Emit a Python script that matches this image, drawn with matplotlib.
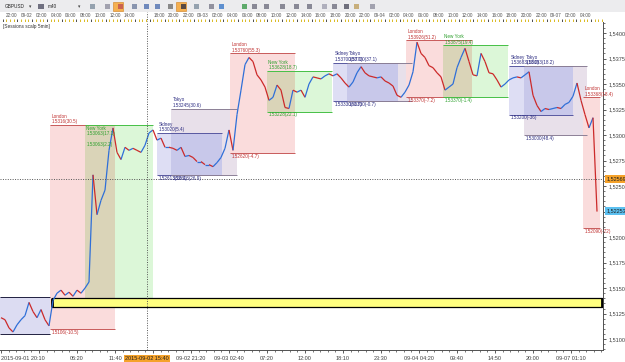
import numpy as np
import matplotlib
matplotlib.use("Agg")
import matplotlib.pyplot as plt
from matplotlib.collections import LineCollection
from matplotlib.patches import Rectangle
from matplotlib.ticker import MultipleLocator, FuncFormatter
import matplotlib.transforms as mtransforms

plt.rcParams["font.family"] = ["Liberation Sans", "DejaVu Sans"]

# GBPUSD closes, one value per bar
close = [
    1.5121, 1.5119, 1.5111, 1.5107, 1.5114, 1.5119, 1.5123, 1.5136, 1.5127, 1.5121,
    1.5129, 1.5119, 1.5113, 1.5138, 1.5145, 1.5148, 1.5143, 1.5146, 1.5142, 1.5148,
    1.5145, 1.5150, 1.5156, 1.5261, 1.5222, 1.5236, 1.5246, 1.5285, 1.5307, 1.5283,
    1.5276, 1.5288, 1.5285, 1.5287, 1.5285, 1.5283, 1.5290, 1.5302, 1.5305, 1.5295,
    1.5297, 1.5288, 1.5288, 1.5287, 1.5285, 1.5288, 1.5279, 1.5280, 1.5278, 1.5274,
    1.5274, 1.5271, 1.5271, 1.5269, 1.5273, 1.5278, 1.5287, 1.5305, 1.5285, 1.5320,
    1.5344, 1.5369, 1.5376, 1.5372, 1.5359, 1.5354, 1.5347, 1.5334, 1.5337, 1.5349,
    1.5344, 1.5327, 1.5326, 1.5344, 1.5342, 1.5344, 1.5337, 1.5350, 1.5357, 1.5356,
    1.5355, 1.5358, 1.5360, 1.5358, 1.5360, 1.5356, 1.5351, 1.5347, 1.5352, 1.5361,
    1.5367, 1.5361, 1.5358, 1.5357, 1.5356, 1.5357, 1.5353, 1.5351, 1.5348, 1.5339,
    1.5337, 1.5342, 1.5349, 1.5362, 1.5391, 1.5380, 1.5376, 1.5368, 1.5366, 1.5361,
    1.5357, 1.5344, 1.5347, 1.5350, 1.5366, 1.5376, 1.5385, 1.5372, 1.5359, 1.5358,
    1.5380, 1.5372, 1.5361, 1.5360, 1.5354, 1.5347, 1.5350, 1.5354, 1.5356, 1.5357,
    1.5356, 1.5359, 1.5362, 1.5339, 1.5329, 1.5323, 1.5326, 1.5325, 1.5326, 1.5327,
    1.5326, 1.5330, 1.5332, 1.5338, 1.5351, 1.5334, 1.5320, 1.5307, 1.5317, 1.5225,
]

# trading sessions (bar ranges and high/low)
sess_name = ["", "London", "New York", "Sidney", "Tokyo", "London", "New York",
             "Sidney", "Tokyo", "London", "New York", "Sidney", "Tokyo", "London"]
sess_start = [-0.25, 12.25, 21.0, 39.0, 42.5, 57.25, 66.5, 83.0, 86.5, 101.25, 110.5, 127.0, 130.75, 145.5]
sess_end = [12.25, 28.5, 38.0, 55.25, 59.0, 73.5, 82.75, 99.25, 102.75, 117.75, 126.75, 143.0, 146.5, 149.75]
sess_high = [1.5141, 1.5310, 1.5310, 1.5302, 1.5326, 1.5380, 1.5363, 1.5371, 1.5371, 1.5393, 1.5388, 1.5368, 1.5368, 1.5337]
sess_low = [1.5105, 1.5110, 1.5138, 1.5261, 1.5261, 1.5282, 1.5323, 1.5333, 1.5333, 1.5337, 1.5337, 1.5320, 1.5300, 1.5209]
sess_hi_text = ["", "1.5316(30.5)", "1.53063(17.1)", "1.53020(5.4)", "1.53245(30.6)", "1.53760(55.3)",
                "1.53628(18.7)", "1.53700(37.1)", "1.53700(37.1)", "1.53926(51.2)", "1.53875(19.4)",
                "1.53683(18.2)", "1.53683(18.2)", "1.53368(18.4)"]
sess_lo_text = ["", "1.5106(-10.5)", "", "1.52613(26.9)", "1.52613(26.9)", "1.52620(-4.7)",
                "1.53228(22.1)", "1.53330(-0.7)", "1.53330(-0.7)", "1.53370(-7.2)", "1.53370(-1.4)",
                "1.53200(-36)", "1.53000(48.4)", "1.52090(-72)"]
note_bar, note_price, note_text = 21.0, 1.5291, "1.53063(2.2)"

band_start, band_end = 12.75, 150.25
band_low, band_high = 1.5131, 1.5140

cross_bar = 36.5
cross_price = 1.52569
cross_time = "2015-09-02 15:40"
bid_price = 1.52253

bottom_labels = ["2015-09-01 20:10", "", "06:20", "11:40", "", "09-02 21:20", "09-03 02:40",
                 "07:20", "12:00", "18:10", "23:30", "09-04 04:20", "09:40", "14:50", "20:00",
                 "09-07 01:10"]
ruler_labels = ["22:00",
                "09-02", "02:00", "04:00", "06:00", "08:00", "10:00", "12:00", "14:00", "", "18:00", "20:00", "22:00",
                "09-03", "02:00", "04:00", "06:00", "08:00", "10:00", "12:00", "14:00", "16:00", "18:00", "20:00", "22:00",
                "09-04", "02:00", "04:00", "06:00", "08:00", "10:00", "12:00", "14:00", "16:00", "18:00", "20:00", "22:00",
                "09-07", "02:00", "04:00"]

W, H = 625, 362
fig = plt.figure(figsize=(W / 100, H / 100), dpi=100)
fig.patch.set_facecolor("white")


def box(x0, y0, x1, y1):
    return [x0 / W, 1 - y1 / H, (x1 - x0) / W, (y1 - y0) / H]


def bare(a):
    a.set_xticks([])
    a.set_yticks([])
    for sp in a.spines.values():
        sp.set_visible(False)


# toolbar
tb = fig.add_axes(box(0, 0, 625, 12))
tb.set_xlim(0, 625)
tb.set_ylim(12, 0)
tb.set_facecolor("#ececee")
bare(tb)
tb.text(5, 6.3, "GBPUSD", fontsize=3.4, va="center", color="#222222")
tb.text(29, 6.3, "▾", fontsize=3.4, va="center", color="#444444")
tb.add_patch(Rectangle((38, 3.5), 6, 5, fc="#707080", ec="none"))
tb.text(48, 6.3, "m40", fontsize=3.4, va="center", color="#222222")
tb.text(78, 6.3, "▾", fontsize=3.4, va="center", color="#444444")
tb.add_patch(Rectangle((113, 1.5), 10, 9, fc="#f5b050", ec="#d08020", lw=0.4))
tb.add_patch(Rectangle((176, 1.5), 10, 9, fc="#f5b050", ec="#d08020", lw=0.4))
icon_x = [88, 103, 116, 130, 142, 153, 166, 179, 192, 207, 217, 240, 250, 262, 278, 292, 305, 320, 330, 342, 352, 368]
icon_c = ["#8090a0", "#9090a0", "#c05050", "#7080a0", "#5070b0", "#5070b0", "#707070", "#303040", "#8090a0",
          "#7a7a8a", "#3a78c8", "#3a9a4a", "#707080", "#707080", "#707080", "#707080", "#707080", "#a0a0b0",
          "#707080", "#505060", "#c0a060", "#9090a0"]
for ix, ic in zip(icon_x, icon_c):
    tb.add_patch(Rectangle((ix + 1.5, 3.5), 5, 5, fc=ic, ec="none", alpha=0.8))
tb.axhline(11.8, color="#cccccc", lw=0.5)

# main chart
ax = fig.add_axes(box(0, 22, 603, 350))
ax.set_xlim(-0.25, 150.5)
ax.set_ylim(1.508934, 1.541078)
ax.set_facecolor("white")

fill = {"London": "#fadcdc", "New York": "#dcf7d8", "Sidney": "#dedef4", "Tokyo": "#e8e0ea", "": "#dcdcf2"}
line_c = {"London": "#c85a5a", "New York": "#46c046", "Sidney": "#5858a0", "Tokyo": "#8c8096", "": "#202040"}
text_c = {"London": "#c03030", "New York": "#2ea02e", "Sidney": "#2a2a80", "Tokyo": "#2a2a80", "": "#2a2a80"}
mix = {("London", "New York"): "#dad4b8", ("Sidney", "Tokyo"): "#c8c8ea"}

for s, e, hi, lo, nm in zip(sess_start, sess_end, sess_high, sess_low, sess_name):
    ax.fill_between([s, e], lo, hi, color=fill[nm], lw=0, zorder=1)
for i in range(len(sess_name) - 1):
    key = (sess_name[i], sess_name[i + 1])
    if key in mix:
        s = max(sess_start[i], sess_start[i + 1])
        e = min(sess_end[i], sess_end[i + 1])
        lo = max(sess_low[i], sess_low[i + 1])
        hi = min(sess_high[i], sess_high[i + 1])
        if e > s:
            ax.fill_between([s, e], lo, hi, color=mix[key], lw=0, zorder=1.5)

fs = 3.3
for i, (s, e, hi, lo, nm) in enumerate(zip(sess_start, sess_end, sess_high, sess_low, sess_name)):
    ax.hlines([hi, lo], s, e, colors=line_c[nm], lw=0.7, zorder=2)
    inside = i == 2
    if nm:
        dy = (-1.0, -4.6) if inside else (4.4, 0.4)
        va = "top" if inside else "bottom"
        ax.annotate(nm, (s, hi), xytext=(1, dy[0]), textcoords="offset points",
                    fontsize=fs, color=text_c[nm], va=va, ha="left", zorder=6)
        ax.annotate(sess_hi_text[i], (s, hi), xytext=(1, dy[1]), textcoords="offset points",
                    fontsize=fs, color=text_c[nm], va=va, ha="left", zorder=6)
    if sess_lo_text[i]:
        ax.annotate(sess_lo_text[i], (s, lo), xytext=(1, -0.6), textcoords="offset points",
                    fontsize=fs, color=text_c[nm], va="top", ha="left", zorder=6)
ax.annotate(note_text, (note_bar, note_price), xytext=(1, 0), textcoords="offset points",
            fontsize=fs, color=text_c["New York"], va="center", ha="left", zorder=6)

# yellow band
ax.fill_between([band_start, band_end], band_low, band_high, facecolor="#ffff80",
                edgecolor="black", lw=0.9, zorder=3)
ax.vlines([band_start, band_end], band_low, band_high, colors="black", lw=2.0, zorder=3.2)

# price
xb = np.arange(len(close))
pts = np.column_stack([xb, close])
segs = np.stack([pts[:-1], pts[1:]], axis=1)
cols = np.where(np.diff(close) >= 0, "#2f6fd8", "#cc2a2a")
ax.add_collection(LineCollection(segs, colors=cols, lw=0.9, zorder=4))

# crosshair
ax.axvline(cross_bar, color="#555555", ls=(0, (1, 1.5)), lw=0.7, zorder=5)
ax.axhline(cross_price, color="#555555", ls=(0, (1, 1.5)), lw=0.7, zorder=5)

ax.text(0.005, 0.993, "[Sessions scalp 5min]", transform=ax.transAxes, fontsize=3.4,
        va="top", ha="left", color="#303030")

# axes styling
for sp in ["top", "left"]:
    ax.spines[sp].set_visible(False)
for sp in ["right", "bottom"]:
    ax.spines[sp].set_color("#505050")
    ax.spines[sp].set_linewidth(0.7)
ax.yaxis.tick_right()
ax.yaxis.set_major_locator(MultipleLocator(0.0025))
ax.yaxis.set_minor_locator(MultipleLocator(0.0005))
# the bid marker sits on top of the 1,5225 tick label
ax.yaxis.set_major_formatter(FuncFormatter(
    lambda v, p: "" if abs(v - bid_price) < 0.0006 else f"{v:.4f}".replace(".", ",")))
ax.tick_params(axis="y", which="major", length=2.5, width=0.6, pad=1.2, labelsize=4.0, colors="#404040")
ax.tick_params(axis="y", which="minor", length=1.3, width=0.5, colors="#404040")
ax.set_xticks(np.arange(len(bottom_labels)) * 9.5)
ax.set_xticklabels(bottom_labels)
ax.xaxis.set_minor_locator(MultipleLocator(1.9))
ax.tick_params(axis="x", which="major", length=2.5, width=0.6, pad=1.5, labelsize=4.0, colors="#404040")
ax.tick_params(axis="x", which="minor", length=1.3, width=0.5, colors="#404040")
ax.get_xticklabels()[0].set_ha("left")

ty = mtransforms.blended_transform_factory(ax.transAxes, ax.transData)
ax.text(1.006, cross_price, f"{cross_price:.5f}".replace(".", ","), transform=ty, fontsize=4.0,
        va="center", ha="left", color="#202020", clip_on=False, zorder=10,
        bbox=dict(boxstyle="square,pad=0.25", fc="#f5a22a", ec="none"))
ax.text(1.006, bid_price, f"{bid_price:.5f}".replace(".", ","), transform=ty, fontsize=4.0,
        va="center", ha="left", color="#202020", clip_on=False, zorder=10,
        bbox=dict(boxstyle="square,pad=0.25", fc="#5cc0f0", ec="none"))
tx = mtransforms.blended_transform_factory(ax.transData, ax.transAxes)
ax.text(cross_bar, -0.026, cross_time, transform=tx, fontsize=4.0, va="center", ha="center",
        color="#202020", clip_on=False, zorder=10,
        bbox=dict(boxstyle="square,pad=0.25", fc="#f5a22a", ec="none"))

# time ruler at the top
ru = fig.add_axes(box(0, 12, 603, 22))
ru.set_xlim(ax.get_xlim())
ru.set_ylim(0, 1)
bare(ru)
for k, lab in enumerate(ruler_labels):
    ru.text(2.75 + 3.675 * k, 0.64, lab, fontsize=3.3, ha="center", va="center", color="#505050")
tick_x = np.arange(0.44, 150.5, 0.919)
ru.vlines(tick_x, 0.0, 0.3, colors=["#303030" if j % 4 == 0 else "#d4b000" for j in range(len(tick_x))], lw=0.6)
ru.axvline(cross_bar, color="#555555", ls=(0, (1, 1.5)), lw=0.7)

fig.savefig("out.png", dpi=100)
